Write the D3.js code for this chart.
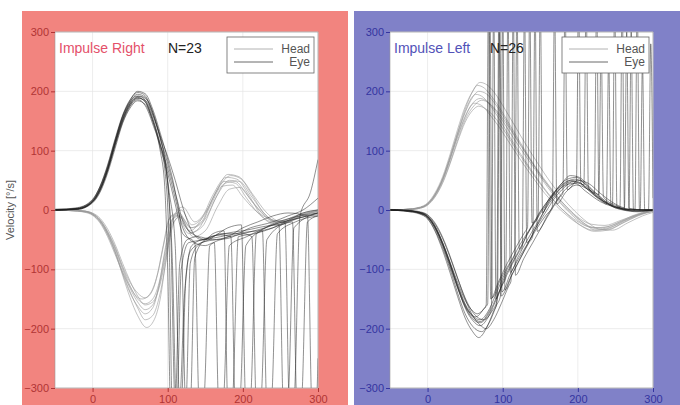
<!DOCTYPE html>
<html>
<head>
<meta charset="utf-8">
<script src="https://cdn.jsdelivr.net/npm/d3@7"></script>
<style>
  body { margin: 0; background: #fff; }
  text { font-family: "Liberation Sans", Arial, sans-serif; }
</style>
</head>
<body>
<script>
// DATA
var xTicks = [0, 100, 200, 300];
var yTicks = [-300, -200, -100, 0, 100, 200, 300];

// "Impulse Right" - head traces [ms, deg/s]
var headRight = [
  [[-50,0],[-30,0],[-10,-2],[0,-6],[10,-16],[20,-36],[30,-62],[40,-95],[50,-122],[60,-140],[70,-148],[80,-135],[88,-100],[96,-50],[104,-10],[115,-5],[130,-30],[145,-20],[160,20],[175,48],[190,45],[205,20],[220,-5],[240,-20],[260,-15],[280,-5],[300,0]],
  [[-50,0],[-30,-1],[-10,-3],[0,-8],[10,-20],[20,-42],[30,-72],[40,-108],[50,-140],[60,-162],[70,-175],[80,-165],[88,-130],[96,-70],[104,-20],[115,-10],[130,-35],[145,-15],[160,25],[178,55],[192,52],[208,25],[225,-10],[245,-25],[265,-15],[285,-5],[300,-2]],
  [[-50,0],[-30,0],[-10,-2],[0,-7],[10,-18],[20,-40],[30,-70],[40,-110],[50,-148],[60,-178],[72,-198],[82,-185],[90,-150],[98,-80],[106,-20],[118,0],[132,-25],[148,-10],[165,32],[180,60],[195,56],[210,30],[228,-5],[248,-20],[270,-10],[300,0]],
  [[-50,0],[-30,-1],[-10,-4],[0,-9],[10,-22],[20,-45],[30,-75],[40,-105],[50,-130],[58,-145],[66,-150],[76,-142],[86,-110],[94,-60],[102,-15],[112,-8],[128,-40],[142,-30],[158,10],[172,40],[186,42],[200,22],[216,0],[236,-15],[258,-20],[280,-8],[300,-2]],
  [[-50,0],[-30,0],[-10,-2],[0,-5],[10,-14],[20,-32],[30,-58],[40,-90],[50,-120],[60,-145],[70,-160],[80,-155],[90,-125],[98,-75],[106,-25],[116,-12],[134,-45],[150,-35],[166,5],[182,35],[196,38],[212,15],[230,-10],[250,-25],[272,-15],[300,-5]],
  [[-50,0],[-30,-1],[-10,-3],[0,-7],[10,-18],[20,-38],[30,-66],[40,-100],[50,-132],[60,-155],[70,-168],[80,-160],[90,-120],[100,-55],[108,-10],[120,5],[136,-20],[152,0],[168,38],[184,58],[198,52],[214,25],[232,-5],[252,-20],[276,-10],[300,0]],
  [[-50,0],[-30,0],[-10,-2],[0,-6],[10,-17],[20,-37],[30,-64],[40,-97],[50,-128],[60,-150],[70,-158],[80,-150],[90,-115],[98,-60],[106,-15],[116,-8],[130,-38],[146,-28],[162,15],[176,45],[190,48],[204,28],[220,2],[240,-18],[262,-18],[284,-6],[300,-3]],
  [[-50,0],[-30,-1],[-10,-3],[0,-8],[10,-20],[20,-41],[30,-70],[40,-105],[50,-138],[60,-165],[70,-185],[80,-178],[90,-140],[98,-85],[106,-30],[116,-10],[132,-30],[150,-15],[166,25],[182,50],[196,48],[212,22],[230,-8],[250,-22],[272,-12],[300,-2]]
];

// "Impulse Right" - eye traces
var eyeRight = [
  [[-50,0],[-20,2],[0,14],[10,34],[20,68],[30,112],[40,152],[50,178],[60,190],[70,182],[80,150],[90,105],[100,45],[106,-80],[112,-340],[118,-330],[124,-120],[132,-60],[150,-48],[170,-42],[184,-45],[190,-330],[196,-320],[204,-60],[230,-30],[260,-15],[300,-5]],
  [[-50,1],[-20,4],[0,18],[10,40],[20,76],[30,120],[40,160],[50,186],[60,198],[68,195],[80,165],[90,120],[98,70],[104,-40],[110,-330],[116,-320],[122,-150],[130,-70],[145,-55],[165,-50],[180,-48],[200,-40],[212,-45],[218,-330],[224,-320],[232,-50],[260,-20],[300,-8]],
  [[-50,0],[-20,1],[0,12],[10,30],[20,62],[30,104],[40,146],[50,172],[60,184],[70,178],[80,150],[90,110],[100,70],[110,20],[120,-30],[135,-55],[150,-60],[162,-55],[168,-330],[174,-320],[182,-60],[205,-45],[240,-25],[270,-15],[300,-5]],
  [[-50,-1],[-20,3],[0,16],[10,38],[20,72],[30,116],[40,156],[50,182],[58,192],[66,190],[78,160],[88,118],[96,70],[102,-60],[106,-330],[112,-330],[118,-100],[128,-55],[150,-50],[170,-45],[200,-38],[226,-35],[232,-330],[238,-320],[246,-40],[270,-20],[300,-10]],
  [[-50,0],[-20,2],[0,15],[10,36],[20,70],[30,115],[40,158],[50,185],[60,200],[70,196],[80,170],[90,130],[100,85],[110,30],[118,-40],[124,-330],[130,-330],[136,-80],[150,-50],[175,-40],[200,-35],[248,-25],[254,-330],[260,-320],[268,-30],[300,-5]],
  [[-50,1],[-20,2],[0,13],[10,32],[20,66],[30,110],[40,150],[50,176],[60,188],[70,185],[80,160],[90,125],[100,90],[110,50],[120,5],[132,-35],[145,-50],[160,-45],[180,-30],[198,-25],[204,-330],[210,-320],[218,-40],[240,-30],[266,-20],[272,-330],[278,-320],[286,-20],[300,-10]],
  [[-50,0],[-20,1],[0,14],[10,34],[20,66],[30,108],[40,148],[50,175],[60,186],[70,176],[80,145],[90,100],[96,40],[100,-100],[104,-340],[110,-330],[116,-90],[126,-50],[140,-45],[160,-50],[180,-45],[200,-30],[220,-20],[240,-10],[260,-5],[286,-10],[292,-330],[298,-320],[300,-250]],
  [[-50,0],[-20,3],[0,17],[10,40],[20,74],[30,118],[40,158],[50,183],[60,195],[70,190],[80,162],[90,122],[100,78],[112,20],[122,-25],[140,-45],[150,-50],[160,-40],[175,-35],[180,-330],[186,-320],[194,-45],[215,-40],[240,-30],[264,-15],[280,-5],[300,0]],
  [[-50,0],[-20,2],[0,14],[10,34],[20,68],[30,112],[40,152],[50,180],[62,192],[72,186],[84,150],[94,100],[102,30],[110,-60],[116,-330],[124,-330],[130,-90],[140,-60],[155,-50],[170,-40],[190,-40],[210,-30],[240,-20],[260,-10],[280,0],[300,20]],
  [[-50,1],[-20,2],[0,15],[10,36],[20,70],[30,114],[40,154],[50,179],[60,189],[70,183],[80,155],[90,112],[100,62],[110,10],[120,-40],[136,-55],[142,-330],[148,-320],[156,-60],[175,-48],[200,-40],[230,-30],[256,-20],[262,-330],[268,-320],[276,-10],[290,30],[300,85]]
];

// "Impulse Left" - head traces
var headLeft = [
  [[-50,0],[-30,1],[-10,4],[0,10],[10,25],[20,50],[30,85],[40,124],[50,158],[60,180],[70,188],[80,182],[90,168],[100,150],[115,120],[130,92],[145,65],[160,38],[175,14],[190,-6],[205,-22],[220,-30],[240,-28],[260,-18],[280,-8],[300,-2]],
  [[-50,0],[-30,1],[-10,5],[0,12],[10,29],[20,56],[30,94],[40,136],[50,174],[60,200],[66,210],[76,205],[86,190],[98,168],[112,138],[128,104],[144,72],[160,44],[176,18],[192,-4],[208,-22],[224,-34],[242,-32],[262,-20],[282,-8],[300,0]],
  [[-50,0],[-30,0],[-10,3],[0,8],[10,22],[20,45],[30,78],[40,115],[50,148],[60,168],[68,175],[80,168],[92,152],[104,130],[118,102],[134,72],[150,44],[166,18],[182,-2],[198,-18],[214,-28],[232,-30],[252,-22],[272,-10],[300,0]],
  [[-50,0],[-30,1],[-10,4],[0,11],[10,27],[20,53],[30,90],[40,130],[50,166],[58,188],[64,195],[74,190],[84,175],[96,152],[110,122],[126,90],[142,60],[158,32],[174,8],[190,-12],[206,-28],[222,-36],[240,-34],[260,-22],[280,-10],[300,-2]],
  [[-50,0],[-30,0],[-10,3],[0,9],[10,23],[20,47],[30,80],[40,118],[50,152],[62,176],[72,185],[82,180],[94,164],[108,140],[122,112],[138,82],[154,52],[170,26],[186,4],[202,-14],[218,-24],[236,-26],[256,-18],[278,-8],[300,0]],
  [[-50,0],[-30,1],[-10,4],[0,10],[10,26],[20,52],[30,88],[40,128],[50,164],[60,190],[68,200],[78,196],[88,182],[100,160],[114,130],[130,98],[146,66],[162,38],[178,12],[194,-8],[210,-24],[228,-32],[246,-28],[266,-16],[286,-6],[300,-2]],
  [[-50,0],[-30,1],[-10,4],[0,10],[10,26],[20,51],[30,86],[40,124],[50,156],[56,172],[62,180],[72,176],[82,162],[94,142],[108,115],[124,84],[140,55],[156,28],[172,6],[188,-12],[204,-26],[220,-34],[238,-32],[258,-20],[280,-8],[300,-2]],
  [[-50,0],[-30,0],[-10,4],[0,10],[10,25],[20,51],[30,88],[40,130],[50,170],[60,200],[70,215],[80,210],[90,196],[102,172],[116,142],[132,108],[148,76],[164,46],[180,20],[196,-2],[212,-20],[228,-32],[246,-34],[266,-22],[286,-10],[300,-4]]
];

// "Impulse Left" - eye traces
var eyeLeft = [
  [[-50,0],[-30,-1],[-10,-5],[0,-12],[10,-30],[20,-58],[30,-92],[40,-128],[50,-160],[60,-180],[70,-188],[80,-175],[85,-160],[88,360],[91,-150],[100,-120],[110,-95],[120,-72],[130,-48],[140,-25],[147,-12],[150,360],[153,-5],[160,15],[175,38],[190,50],[200,48],[215,32],[235,12],[238,10],[241,260],[244,8],[255,2],[280,-2],[300,0]],
  [[-50,1],[-30,0],[-10,-6],[0,-14],[10,-34],[20,-64],[30,-100],[40,-140],[50,-175],[60,-196],[72,-205],[82,-190],[92,-160],[97,-145],[100,360],[103,-135],[112,-110],[124,-80],[136,-50],[148,-20],[160,10],[172,35],[186,52],[198,55],[212,40],[222,28],[225,360],[228,24],[240,10],[260,0],[280,-3],[300,0]],
  [[-50,0],[-30,-2],[-10,-6],[0,-11],[10,-28],[20,-55],[30,-88],[40,-122],[50,-152],[60,-170],[66,-175],[76,-165],[80,-158],[83,340],[86,-148],[96,-120],[108,-92],[116,-75],[119,360],[122,-66],[132,-42],[144,-18],[156,5],[170,28],[184,42],[196,45],[210,32],[230,14],[260,2],[268,0],[271,300],[274,0],[300,0]],
  [[-50,0],[-30,-1],[-10,-4],[0,-10],[10,-27],[20,-55],[30,-90],[40,-130],[50,-165],[60,-186],[70,-195],[80,-182],[90,-155],[100,-125],[104,-115],[107,360],[110,-105],[120,-80],[132,-52],[144,-26],[156,0],[168,22],[180,40],[192,48],[204,44],[208,42],[211,360],[214,38],[230,18],[250,5],[275,0],[283,0],[286,250],[289,0],[300,0]],
  [[-50,0],[-30,-1],[-10,-4],[0,-9],[10,-24],[20,-48],[30,-80],[40,-115],[50,-148],[60,-172],[75,-185],[85,-172],[93,-150],[96,360],[99,-138],[110,-108],[122,-80],[134,-55],[146,-30],[158,-8],[166,5],[169,360],[172,10],[184,30],[198,42],[212,36],[228,20],[250,6],[256,4],[259,360],[262,2],[280,0],[300,0]],
  [[-50,0],[-30,-2],[-10,-7],[0,-15],[10,-36],[20,-68],[30,-106],[40,-146],[50,-182],[60,-205],[68,-215],[78,-200],[88,-170],[92,-158],[95,360],[98,-145],[110,-115],[122,-85],[135,-55],[140,-44],[143,360],[146,-36],[160,-8],[174,20],[188,40],[200,46],[214,36],[232,16],[252,4],[280,-2],[294,0],[297,280],[300,20]],
  [[-50,0],[-30,-1],[-10,-5],[0,-12],[10,-31],[20,-60],[30,-96],[40,-132],[50,-162],[58,-176],[64,-180],[74,-168],[78,-160],[81,360],[84,-150],[94,-122],[106,-90],[118,-62],[130,-36],[133,-30],[136,360],[139,-22],[150,-2],[164,22],[178,44],[190,58],[202,55],[216,38],[232,20],[246,8],[249,360],[252,6],[270,0],[300,0]],
  [[-50,0],[-30,0],[-10,-3],[0,-8],[10,-22],[20,-46],[30,-78],[40,-115],[50,-150],[60,-178],[70,-194],[78,-200],[88,-185],[98,-158],[108,-128],[111,-120],[114,360],[117,-110],[128,-82],[140,-55],[152,-28],[164,-2],[176,22],[180,28],[183,360],[186,34],[200,50],[214,45],[230,28],[250,10],[262,4],[265,300],[268,3],[290,0],[300,0]],
  [[-50,0],[-30,-1],[-10,-5],[0,-12],[10,-30],[20,-58],[30,-93],[40,-130],[50,-163],[60,-183],[70,-190],[80,-178],[90,-152],[100,-124],[110,-98],[122,-70],[126,-62],[129,360],[132,-55],[144,-30],[156,-6],[168,18],[182,38],[194,48],[198,48],[201,360],[204,46],[220,30],[240,12],[260,2],[300,0]],
  [[-50,0],[-30,-1],[-10,-4],[0,-11],[10,-28],[20,-56],[30,-90],[40,-126],[50,-158],[60,-178],[70,-185],[80,-172],[90,-145],[100,-115],[110,-90],[120,-65],[132,-40],[144,-16],[156,8],[170,30],[184,46],[196,52],[208,46],[224,28],[228,26],[231,290],[234,22],[250,8],[276,0],[279,360],[282,0],[300,0]]
];

// panels
var panels = [
  { id: "pr", title: "Impulse Right", count: "N=23", bgX: 22, bgW: 326, plotX: 55,
    bg: "#f2847f", titleColor: "#e4506a", tickColor: "#b03434", head: headRight, eye: eyeRight },
  { id: "pl", title: "Impulse Left", count: "N=26", bgX: 354, bgW: 326, plotX: 390,
    bg: "#8081c8", titleColor: "#5252b8", tickColor: "#3434a0", head: headLeft, eye: eyeLeft }
];

var W = 680, H = 405,
  plotTop = 32, plotH = 356, plotW = 263;

var svg = d3.select("body").append("svg")
  .attr("width", W)
  .attr("height", H);

// y axis label
svg.append("text")
  .attr("transform", "translate(14,210) rotate(-90)")
  .attr("text-anchor", "middle")
  .attr("font-size", 11)
  .attr("fill", "#555")
  .text("Velocity [°/s]");

panels.forEach(function (p) {
  svg.append("rect")
    .attr("x", p.bgX).attr("y", 11)
    .attr("width", p.bgW).attr("height", H - 11)
    .attr("fill", p.bg);

  var x = d3.scaleLinear().domain([-50, 300]).range([p.plotX, p.plotX + plotW]);
  var y = d3.scaleLinear().domain([-300, 300]).range([plotTop + plotH, plotTop]);

  svg.append("rect")
    .attr("x", p.plotX).attr("y", plotTop)
    .attr("width", plotW).attr("height", plotH)
    .attr("fill", "#fff");

  // grid
  var g = svg.append("g");
  g.selectAll("line.gx").data(xTicks).enter().append("line")
    .attr("x1", function (d) { return x(d); }).attr("x2", function (d) { return x(d); })
    .attr("y1", plotTop).attr("y2", plotTop + plotH)
    .attr("stroke", "#e4e4e4").attr("stroke-width", 0.7);
  g.selectAll("line.gy").data(yTicks).enter().append("line")
    .attr("y1", function (d) { return y(d); }).attr("y2", function (d) { return y(d); })
    .attr("x1", p.plotX).attr("x2", p.plotX + plotW)
    .attr("stroke", "#e4e4e4").attr("stroke-width", 0.7);

  svg.append("clipPath").attr("id", "clip-" + p.id)
    .append("rect")
    .attr("x", p.plotX).attr("y", plotTop)
    .attr("width", plotW).attr("height", plotH);

  var line = d3.line()
    .x(function (d) { return x(d[0]); })
    .y(function (d) { return y(d[1]); })
    .curve(d3.curveMonotoneX);

  var traces = svg.append("g").attr("clip-path", "url(#clip-" + p.id + ")");

  traces.selectAll("path.head").data(p.head).enter().append("path")
    .attr("class", "head")
    .attr("d", line)
    .attr("fill", "none")
    .attr("stroke", "#9a9a9a")
    .attr("stroke-opacity", 0.8)
    .attr("stroke-width", 0.75);

  traces.selectAll("path.eye").data(p.eye).enter().append("path")
    .attr("class", "eye")
    .attr("d", line)
    .attr("fill", "none")
    .attr("stroke", "#1e1e1e")
    .attr("stroke-opacity", 0.7)
    .attr("stroke-width", 0.7);

  svg.append("rect")
    .attr("x", p.plotX).attr("y", plotTop)
    .attr("width", plotW).attr("height", plotH)
    .attr("fill", "none").attr("stroke", "#999").attr("stroke-width", 0.6);

  // axes
  var ya = svg.append("g")
    .attr("transform", "translate(" + p.plotX + ",0)")
    .call(d3.axisLeft(y).tickValues(yTicks).tickSize(4).tickPadding(2));
  var xa = svg.append("g")
    .attr("transform", "translate(0," + (plotTop + plotH) + ")")
    .call(d3.axisBottom(x).tickValues(xTicks).tickSize(4).tickPadding(3));
  [ya, xa].forEach(function (a) {
    a.select(".domain").remove();
    a.selectAll("line").attr("stroke", p.tickColor);
    a.selectAll("text")
      .attr("fill", p.tickColor)
      .attr("font-size", 11)
      .attr("font-family", "Liberation Sans, Arial, sans-serif");
  });

  // titles
  svg.append("text")
    .attr("x", p.plotX + 4).attr("y", 53)
    .attr("font-size", 14)
    .attr("fill", p.titleColor)
    .text(p.title);
  svg.append("text")
    .attr("x", p.plotX + (p.id === "pr" ? 113 : 100)).attr("y", 53)
    .attr("font-size", 14)
    .attr("fill", "#222")
    .text(p.count);

  // legend
  var lx = p.plotX + plotW - 91, ly = 37;
  var leg = svg.append("g").attr("transform", "translate(" + lx + "," + ly + ")");
  leg.append("rect")
    .attr("width", 87).attr("height", 36)
    .attr("fill", "#fff").attr("stroke", "#666").attr("stroke-width", 0.8);
  [["Head", "#a0a0a0"], ["Eye", "#444"]].forEach(function (e, i) {
    leg.append("line")
      .attr("x1", 7).attr("x2", 46)
      .attr("y1", 12 + i * 13).attr("y2", 12 + i * 13)
      .attr("stroke", e[1]).attr("stroke-width", 0.8);
    leg.append("text")
      .attr("x", 83).attr("y", 16 + i * 13)
      .attr("text-anchor", "end")
      .attr("font-size", 12)
      .attr("fill", "#555")
      .text(e[0]);
  });
});
</script>
</body>
</html>
